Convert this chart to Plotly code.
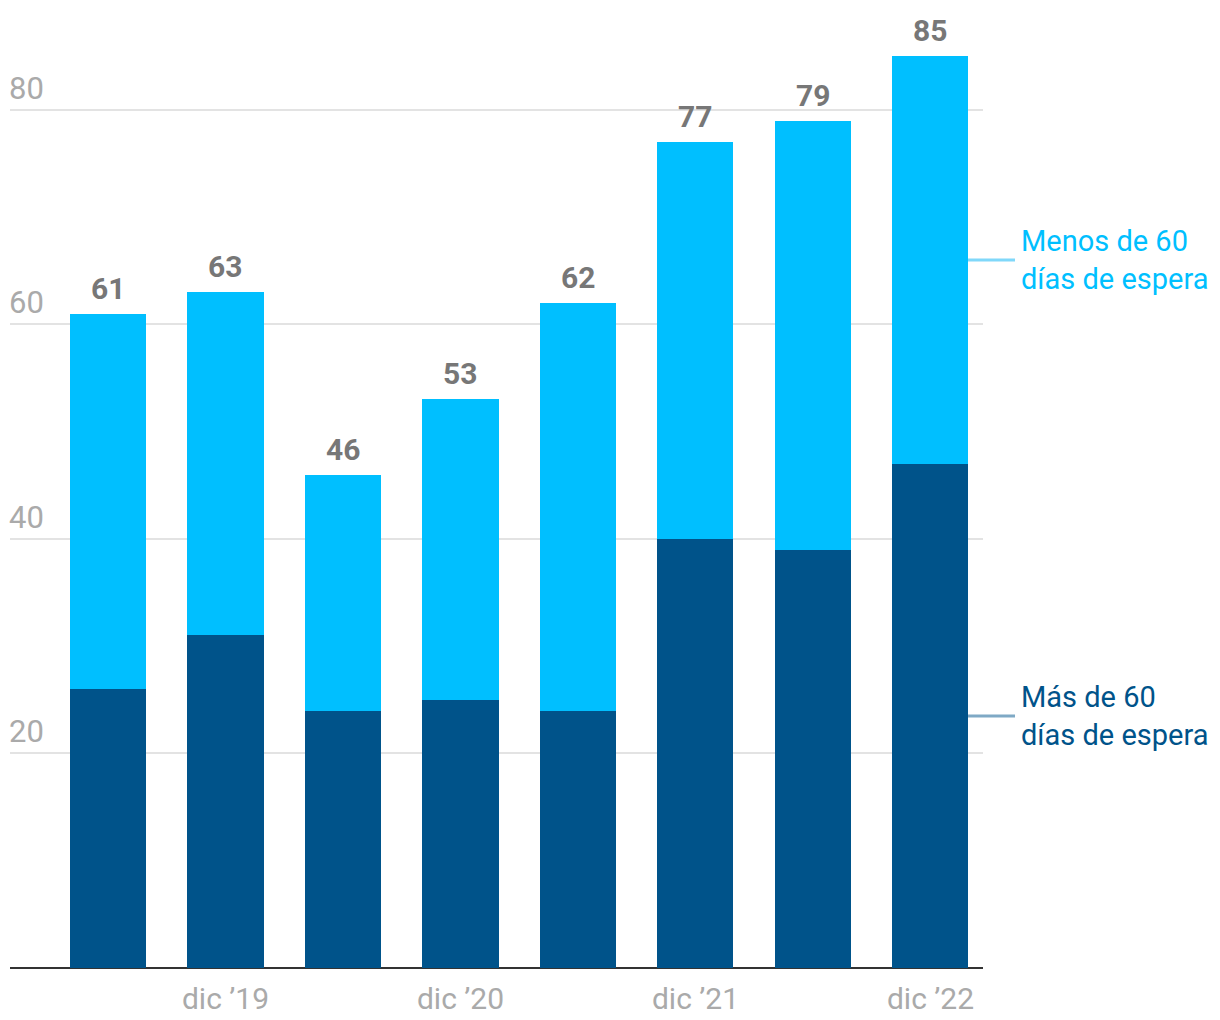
import plotly.graph_objects as go

periods = ["jun ’19", "dic ’19", "jun ’20", "dic ’20", "jun ’21", "dic ’21", "jun ’22", "dic ’22"]
mas_60 = [26, 31, 24, 25, 24, 40, 39, 47]
totales = [61, 63, 46, 53, 62, 77, 79, 85]
menos_60 = [t - m for t, m in zip(totales, mas_60)]
tick_idx = [1, 3, 5, 7]
tick_labels = [periods[i] for i in tick_idx]
y_ticks = [20, 40, 60, 80]

DARK = "#00538A"
LIGHT = "#00BFFF"
FONT = "Roboto"

x = list(range(len(periods)))

fig = go.Figure()
fig.add_trace(go.Bar(x=x, y=mas_60, marker=dict(color=DARK, line=dict(width=0)),
                     width=0.647, hoverinfo="skip", name="Más de 60 días de espera"))
fig.add_trace(go.Bar(x=x, y=menos_60, marker=dict(color=LIGHT, line=dict(width=0)),
                     width=0.647, hoverinfo="skip", name="Menos de 60 días de espera"))

# total labels
for xi, t in zip(x, totales):
    fig.add_annotation(x=xi, y=t, text=f"<b>{t}</b>", showarrow=False, xref="x", yref="y",
                       yanchor="bottom", yshift=6,
                       font=dict(family=FONT, size=30, color="#777777"))

# y tick labels above gridlines
for v in y_ticks:
    fig.add_annotation(x=0, xref="paper", y=v, yref="y", text=str(v), showarrow=False,
                       xanchor="left", yanchor="bottom", yshift=1, xshift=-3,
                       font=dict(family=FONT, size=31, color="#AAAAAA"))

# legend lines and labels, at midpoints of last bar segments
last = len(periods) - 1
mid_dark = mas_60[last] / 2
mid_light = mas_60[last] + menos_60[last] / 2
fig.add_shape(type="line", xref="paper", yref="y", x0=0.9846, x1=1.0329, y0=mid_light, y1=mid_light,
              line=dict(color="#80D8FA", width=3))
fig.add_shape(type="line", xref="paper", yref="y", x0=0.9846, x1=1.0329, y0=mid_dark, y1=mid_dark,
              line=dict(color="#7FA9C5", width=3))
fig.add_annotation(x=1.0, xref="paper", xshift=36, y=mid_light, yref="y",
                   text="Menos de 60<br>días de espera", showarrow=False, xanchor="left",
                   yanchor="middle", align="left",
                   font=dict(family=FONT, size=29, color=LIGHT))
fig.add_annotation(x=1.0, xref="paper", xshift=36, y=mid_dark, yref="y",
                   text="Más de 60<br>días de espera", showarrow=False, xanchor="left",
                   yanchor="middle", align="left",
                   font=dict(family=FONT, size=29, color=DARK))

fig.update_layout(
    barmode="stack",
    width=1220, height=1020,
    margin=dict(l=2, r=245, t=16, b=60),
    paper_bgcolor="white", plot_bgcolor="white",
    showlegend=False,
    xaxis=dict(range=[-0.834, 7.447], tickvals=tick_idx, ticktext=tick_labels,
               showgrid=False, zeroline=False, showline=False, ticks="",
               ticklabelstandoff=10,
               tickfont=dict(family=FONT, size=30, color="#AAAAAA")),
    yaxis=dict(range=[0, 88], tickvals=y_ticks, showticklabels=False,
               showgrid=True, gridcolor="#E3E3E3", gridwidth=1.5,
               zeroline=True, zerolinecolor="#333333", zerolinewidth=2, showline=False),
)

fig.write_html("out.html")
